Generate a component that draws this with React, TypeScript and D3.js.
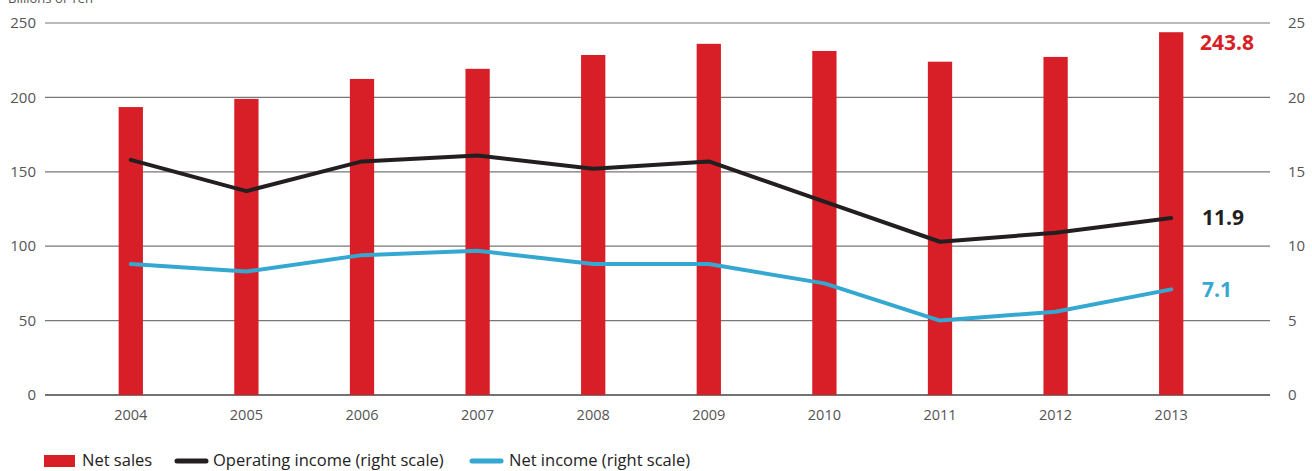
import React from "react";
import * as d3 from "d3";

const years = ["2004", "2005", "2006", "2007", "2008", "2009", "2010", "2011", "2012", "2013"];
const netSales = [193.5, 199, 212.4, 219.2, 228.5, 236, 231.2, 224, 227.2, 243.8];
const operatingIncome = [15.8, 13.7, 15.7, 16.1, 15.2, 15.7, 13.0, 10.3, 10.9, 11.9];
const netIncome = [8.8, 8.3, 9.4, 9.7, 8.8, 8.8, 7.5, 5.0, 5.6, 7.1];
const leftTicks = [0, 50, 100, 150, 200, 250];
const rightTicks = [0, 5, 10, 15, 20, 25];

const W = 1312;
const H = 471;
const RED = "#d81f27";
const BLACK = "#231f20";
const BLUE = "#35a8d1";
const FONT = "'Open Sans', 'Noto Sans', sans-serif";

export default function App() {
  const x = d3.scaleBand<string>().domain(years).range([73, 1229]).paddingInner(0.79).paddingOuter(0.395);
  const yL = d3.scaleLinear().domain([0, 250]).range([395, 23]);
  const yR = d3.scaleLinear().domain([0, 25]).range([395, 23]);
  const cx = (d: string) => (x(d) as number) + x.bandwidth() / 2;

  const opLine = d3.line<number>().x((_, i) => cx(years[i])).y((v) => yR(v));
  const niLine = d3.line<number>().x((_, i) => cx(years[i])).y((v) => yR(v));

  const last = years.length - 1;

  return (
    <svg width={W} height={H} style={{ position: "absolute", left: 0, top: 0, background: "#fff" }} fontFamily={FONT}>
      <text x={8} y={3} fontSize={13} fill="#555">Billions of Yen</text>
      {leftTicks.map((t) => (
        <g key={t}>
          <line x1={45} x2={1270} y1={yL(t)} y2={yL(t)} stroke={t === 0 ? "#444" : "#777"} strokeWidth={t === 0 ? 1.6 : 1.2} />
          <text x={36} y={yL(t)} dy="0.35em" textAnchor="end" fontSize={15} fill="#555">{t}</text>
        </g>
      ))}
      {rightTicks.map((t) => (
        <text key={t} x={1288} y={yR(t)} dy="0.35em" textAnchor="start" fontSize={15} fill="#555">{t}</text>
      ))}
      {years.map((yr, i) => (
        <rect key={yr} x={x(yr)} y={yL(netSales[i])} width={x.bandwidth()} height={yL(0) - yL(netSales[i])} fill={RED} />
      ))}
      {years.map((yr) => (
        <text key={yr} x={cx(yr)} y={420} textAnchor="middle" fontSize={14.5} fill="#555">{yr}</text>
      ))}
      <path d={opLine(operatingIncome) || ""} fill="none" stroke={BLACK} strokeWidth={4} strokeLinecap="round" strokeLinejoin="round" />
      <path d={niLine(netIncome) || ""} fill="none" stroke={BLUE} strokeWidth={4} strokeLinecap="round" strokeLinejoin="round" />
      <text x={1200} y={yL(netSales[last]) + 10} dy="0.35em" fontSize={21} fontWeight={700} fill={RED}>{netSales[last].toFixed(1)}</text>
      <text x={1202} y={yR(operatingIncome[last])} dy="0.35em" fontSize={21} fontWeight={700} fill={BLACK}>{operatingIncome[last].toFixed(1)}</text>
      <text x={1202} y={yR(netIncome[last])} dy="0.35em" fontSize={21} fontWeight={700} fill={BLUE}>{netIncome[last].toFixed(1)}</text>
      <g fontSize={16.5} fill="#222">
        <rect x={44} y={455} width={31} height={12} fill={RED} />
        <text x={82} y={460} dy="0.35em">Net sales</text>
        <line x1={177} x2={206} y1={461} y2={461} stroke={BLACK} strokeWidth={5} strokeLinecap="round" />
        <text x={213} y={460} dy="0.35em">Operating income (right scale)</text>
        <line x1={472} x2={501} y1={461} y2={461} stroke={BLUE} strokeWidth={5} strokeLinecap="round" />
        <text x={509} y={460} dy="0.35em">Net income (right scale)</text>
      </g>
    </svg>
  );
}
